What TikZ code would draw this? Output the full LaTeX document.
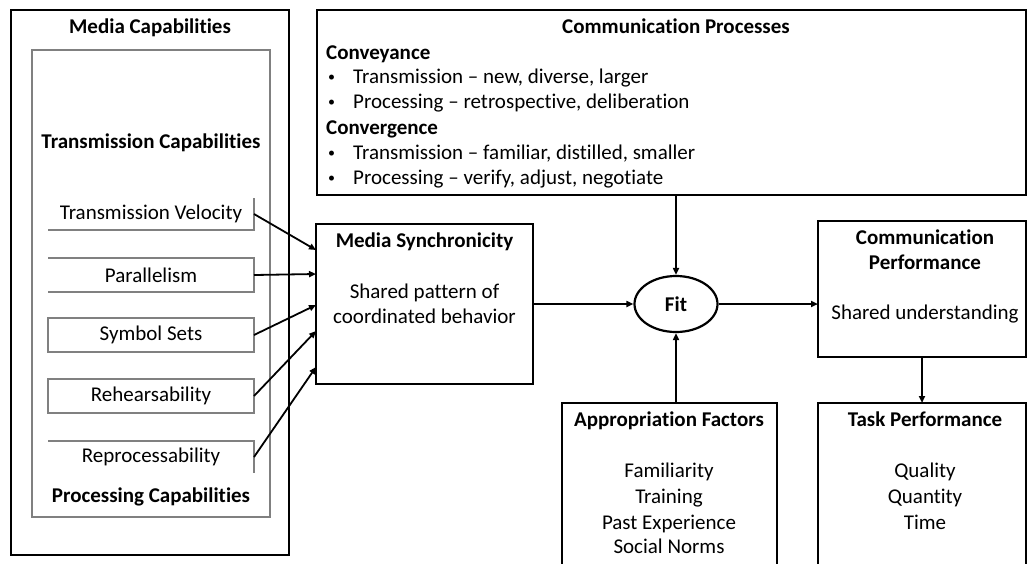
\documentclass[tikz,border=0pt]{standalone}
\usepackage{fontspec}
\setmainfont{Carlito}[Ligatures={TeX,NoCommon}]
\usetikzlibrary{arrows.meta,shapes.geometric}

\begin{document}
\begin{tikzpicture}[x=1pt,y=-1pt,
  every node/.style={font=\fontsize{21}{25}\selectfont},
  txt/.style={anchor=base, inner sep=0pt},
  ttl/.style={anchor=base, inner sep=0pt, font=\fontsize{21}{25}\selectfont\bfseries},
  ltxt/.style={anchor=base west, inner sep=0pt},
  bul/.style={anchor=base west, inner sep=0pt, font=\fontsize{14}{16}\selectfont},
  heavy/.style={line width=2.8pt, black},
  main/.style={line width=2.2pt, black},
  light/.style={line width=1.1pt, black!50},
  frame/.style={minimum width=#1, inner sep=0pt, outer sep=0pt},
  capbox/.style={minimum width=206, inner sep=0pt, outer sep=0pt},
  conn/.style={line width=1.8pt, -{Triangle[length=7pt,width=6pt]}}
]
\clip (0,0) rectangle (1028,563);
\fill[white] (0,0) rectangle (1028,563);

% ---------- media capabilities ----------
\node[draw, heavy, frame=278, minimum height=545] (mcap) at (150,282.5) {};
\node[draw, light, frame=238, minimum height=467] (mcin) at (151,283.5) {};
\node[ttl] (mcapt) at (150,33) {Media Capabilities};
\node[ttl] (trct) at (151,148) {Transmission Capabilities};
\node[ttl] (prct) at (151,502) {Processing Capabilities};

\node[capbox, minimum height=32] (tv) at (151,214) {Transmission Velocity};
\draw[light] (tv.north east) -- (tv.south east) -- (tv.south west);
\node[capbox, minimum height=34] (par) at (151,275) {Parallelism};
\draw[light] (par.north west) -- (par.north east) -- (par.south east) -- (par.south west);
\node[capbox, draw, light, text=black, minimum height=34] (sym) at (151,335) {Symbol Sets};
\node[capbox, draw, light, text=black, minimum height=34] (reh) at (151,396) {Rehearsability};
\node[capbox, minimum height=32] (rep) at (151,457) {Reprocessability};
\draw[light] (rep.north west) -- (rep.north east) -- (rep.south east);

% ---------- media synchronicity ----------
\node[draw, main, frame=217, minimum height=160] (ms) at (424.5,304) {};
\node[ttl] (mst) at (424.5,247) {Media Synchronicity};
\node[txt] (ms1) at (424.5,298) {Shared pattern of};
\node[txt] (ms2) at (424.5,323) {coordinated behavior};

\coordinate (in1) at (316,250);
\coordinate (in2) at (316,274);
\coordinate (in3) at (316,305);
\coordinate (in4) at (316,331);
\coordinate (in5) at (316,367);
\draw[conn] (tv.east) -- (in1);
\draw[conn] (par.east) -- (in2);
\draw[conn] (sym.east) -- (in3);
\draw[conn] (reh.east) -- (in4);
\draw[conn] (rep.east) -- (in5);

% ---------- communication processes ----------
\node[draw, main, frame=709, minimum height=185] (cpr) at (671.5,102.5) {};
\node[ttl] (cprt) at (676,33) {Communication Processes};
\node[ltxt, font=\fontsize{21}{25}\selectfont\bfseries] (conv) at (326,59) {Conveyance};
\node[bul] (b1) at (328,81) {•};
\node[ltxt] (l1) at (353,83) {Transmission – new, diverse, larger};
\node[bul] (b2) at (328,106) {•};
\node[ltxt] (l2) at (353,108) {Processing – retrospective, deliberation};
\node[ltxt, font=\fontsize{21}{25}\selectfont\bfseries] (cvg) at (326,134) {Convergence};
\node[bul] (b3) at (328,157) {•};
\node[ltxt] (l3) at (353,159) {Transmission – familiar, distilled, smaller};
\node[bul] (b4) at (328,182) {•};
\node[ltxt] (l4) at (353,184) {Processing – verify, adjust, negotiate};

% ---------- fit ----------
\node[draw, main, ellipse, minimum width=83, minimum height=56, inner sep=0pt,
      font=\fontsize{21}{25}\selectfont\bfseries] (fit) at (676,304) {Fit};
\draw[conn] (ms.east) -- (fit.west);
\draw[conn] (fit.north |- cpr.south) -- (fit.north);

% ---------- communication performance ----------
\node[draw, main, frame=208, minimum height=136] (cpf) at (922,289) {};
\node[ttl] (cpft1) at (925,244) {Communication};
\node[ttl] (cpft2) at (925,269) {Performance};
\node[txt] (cpf1) at (925,319) {Shared understanding};
\draw[conn] (fit.east) -- (fit.east -| cpf.west);

% ---------- appropriation factors ----------
\node[frame=215, minimum height=200] (apf) at (669.5,503) {};
\draw[main] (apf.south west) -- (apf.north west) -- (apf.north east) -- (apf.south east);
\node[ttl] (apft) at (669,426) {Appropriation Factors};
\node[txt] (ap1) at (669,477) {Familiarity};
\node[txt] (ap2) at (669,503) {Training};
\node[txt] (ap3) at (669,529) {Past Experience};
\node[txt] (ap4) at (669,553) {Social Norms};
\draw[conn] (fit.south |- apf.north) -- (fit.south);

% ---------- task performance ----------
\node[frame=208, minimum height=200] (tpf) at (922,503) {};
\draw[main] (tpf.south west) -- (tpf.north west) -- (tpf.north east) -- (tpf.south east);
\node[ttl] (tpft) at (925,426) {Task Performance};
\node[txt] (tp1) at (925,477) {Quality};
\node[txt] (tp2) at (925,503) {Quantity};
\node[txt] (tp3) at (925,529) {Time};
\draw[conn] (cpf.south) -- (tpf.north);
\end{tikzpicture}
\end{document}
